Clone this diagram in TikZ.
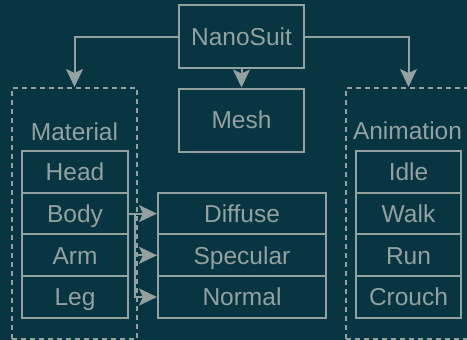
\documentclass[tikz,border=0pt]{standalone}
\usepackage{fontspec}
\setmainfont{Liberation Sans}
\usetikzlibrary{arrows.meta}
\definecolor{bgc}{HTML}{073642}
\definecolor{inkc}{HTML}{93A1A1}
\begin{document}
\begin{tikzpicture}[x=1pt,y=-1pt,
  every node/.style={inner sep=0pt, text=inkc,
    font=\fontsize{24.5}{28}\selectfont, text height=17.5pt, text depth=0pt},
  box/.style={draw=inkc, line width=2pt, minimum width=#1},
  bigbox/.style={box=125pt, minimum height=63pt},
  cell/.style={box=#1, minimum height=41.7pt},
  group/.style={draw=inkc, line width=2pt, dash pattern=on 5pt off 4pt,
    minimum width=125pt, minimum height=250.5pt},
  link/.style={draw=inkc, line width=2pt,
    -{Stealth[length=18pt, width=17pt, inset=4pt]}},
  label/.style={}]
  % canvas
  \fill[bgc] (0,0) rectangle (467,340);
  \path[use as bounding box] (0,0) rectangle (467,340);
  \clip (0,0) rectangle (467,340);

  % top level
  \node[bigbox] (nano) at (241.5,36.5) {NanoSuit};
  \node[bigbox] (mesh) at (241.5,120) {Mesh};

  % groups
  \node[group] (matgrp) at (74.5,213.25) {};
  \node[group] (animgrp) at (408.5,213.25) {};
  \node[label] (matlbl) at (74.5,131.3) {Material};
  \node[label] (animlbl) at (407.5,131) {Animation};

  % material parts
  \node[cell=106pt] (head) at (75,172) {Head};
  \node[cell=106pt] (body) at (75,213.6) {Body};
  \node[cell=106pt] (arm)  at (75,255.3) {Arm};
  \node[cell=106pt] (leg)  at (75,297) {Leg};

  % texture maps
  \node[cell=168pt] (diffuse)  at (242,213.6) {Diffuse};
  \node[cell=168pt] (specular) at (242,255.3) {Specular};
  \node[cell=168pt] (normal)   at (242,297) {Normal};

  % animation clips
  \node[cell=105pt] (idle)   at (408.5,172) {Idle};
  \node[cell=105pt] (walk)   at (408.5,213.6) {Walk};
  \node[cell=105pt] (run)    at (408.5,255.3) {Run};
  \node[cell=105pt] (crouch) at (408.5,297) {Crouch};

  % connectors from the root
  \draw[link] (nano.west) -| (matgrp.north);
  \draw[link] (nano.east) -| (animgrp.north);
  \draw[link] (nano.south) -- (mesh.north);

  % connectors from the body part to its maps
  \coordinate (split) at ([xshift=6pt]body.east);
  \draw[link] (body.east) -- (diffuse.west);
  \draw[link] (body.east) -- (split) |- (specular.west);
  \draw[link] (body.east) -- (split) |- (normal.west);
\end{tikzpicture}
\end{document}
